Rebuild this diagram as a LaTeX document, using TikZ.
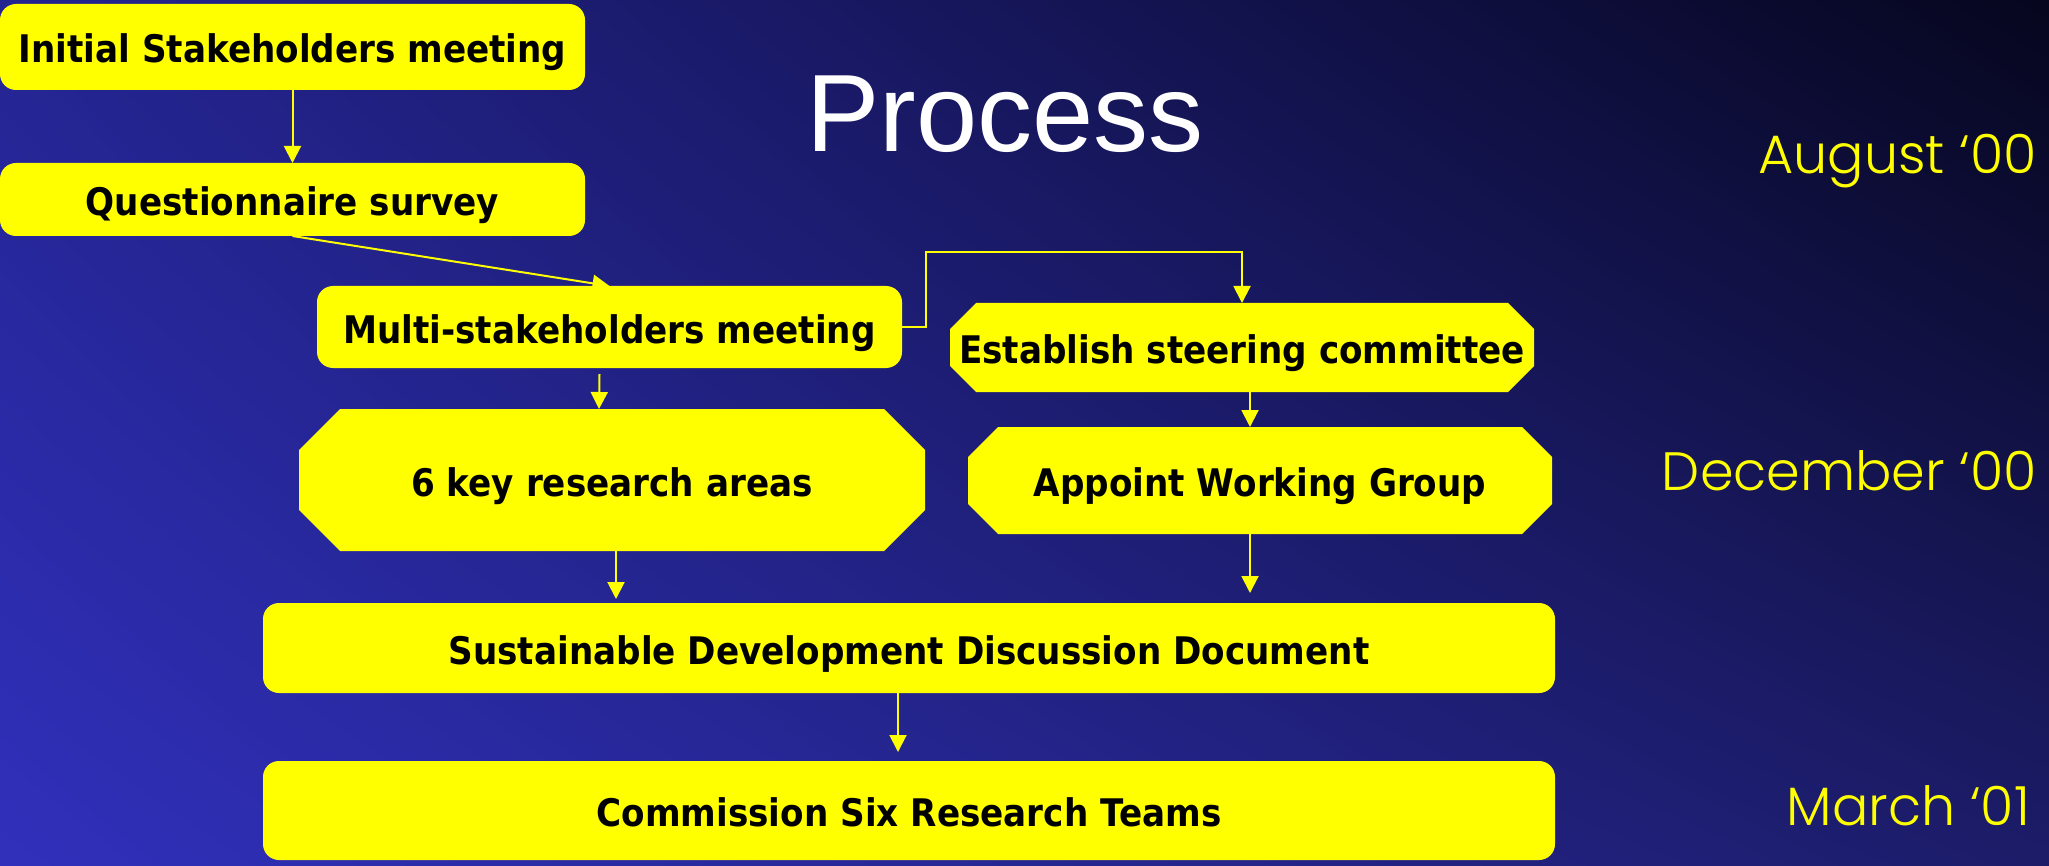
\documentclass[tikz,border=0pt]{standalone}
\usepackage{fontspec}
\usetikzlibrary{arrows.meta,calc,shadings}
\newfontfamily\boxfont[FakeStretch=0.9]{DejaVu Sans}
\newfontfamily\titlefont{Liberation Sans}
\IfFontExistsTF{Poppins Light}{\newfontfamily\datefont{Poppins Light}}{\newfontfamily\datefont{Poppins}}
\definecolor{bgdark}{RGB}{6,6,30}
\definecolor{bgupper}{RGB}{36,36,145}
\definecolor{bglower}{RGB}{28,28,105}
\definecolor{bglight}{RGB}{48,48,188}
\definecolor{boxyellow}{RGB}{255,255,0}

\begin{document}
\begin{tikzpicture}[x=1pt,y=-1pt,
  every node/.append style={inner sep=0pt,outer sep=0pt},
  boxtext/.style={text=black,text height=32pt,text depth=0pt,
    font=\fontsize{38}{44}\boxfont\bfseries},
  roundbox/.style={boxtext,rectangle,rounded corners=16pt,fill=boxyellow},
  octbox/.style={boxtext,rectangle,path picture={
    \fill[boxyellow] ([xshift=#1]path picture bounding box.north west)
      -- ([xshift=-#1]path picture bounding box.north east)
      -- ([yshift=-#1]path picture bounding box.north east)
      -- ([yshift=#1]path picture bounding box.south east)
      -- ([xshift=-#1]path picture bounding box.south east)
      -- ([xshift=#1]path picture bounding box.south west)
      -- ([yshift=#1]path picture bounding box.south west)
      -- ([yshift=-#1]path picture bounding box.north west) -- cycle;}},
  arr/.style={draw=boxyellow,line width=2pt,-{Triangle[width=17pt,length=17pt]}},
  datelabel/.style={anchor=base east,text=boxyellow,font=\fontsize{54}{60}\datefont}]
\useasboundingbox (0,0) rectangle (2049,866);
\shade[upper left=bgupper,upper right=bgdark,lower left=bglight,lower right=bglower] (0,0) rectangle (2049,866);

\node[anchor=base,text=white,font=\fontsize{110}{120}\titlefont] (title) at (1005,152) {Process};
\node[datelabel] (aug) at (2037,174) {August ‘00};
\node[datelabel] (dec) at (2037,490) {December ‘00};
\node[datelabel] (mar) at (2030,825) {March ‘01};

\node[roundbox,minimum width=585pt,minimum height=86pt] (init) at (292.5,47) {Initial Stakeholders meeting};
\node[roundbox,minimum width=585pt,minimum height=73pt] (quest) at (292.5,199.5) {Questionnaire survey};
\node[roundbox,minimum width=585pt,minimum height=82pt] (meet) at (609.5,327) {Multi-stakeholders meeting};
\node[octbox=26pt,minimum width=584pt,minimum height=89pt] (estab) at (1242,347.5) {Establish steering committee};
\node[octbox=41pt,minimum width=626pt,minimum height=142pt] (keys) at (612,480) {6 key research areas};
\node[octbox=30pt,minimum width=584pt,minimum height=107pt] (appoint) at (1260,480.5) {Appoint Working Group};
\node[roundbox,minimum width=1292pt,minimum height=90pt] (sddd) at (909,648) {Sustainable Development Discussion Document};
\node[roundbox,minimum width=1292pt,minimum height=99pt] (comm) at (909,810.5) {Commission Six Research Teams};

\draw[arr] (init) -- (quest);
\draw[arr] (quest.south) -- (meet.north);
\draw[arr] ($(meet.south)+(-10,6)$) -- ($(keys.north)+(-13,0)$);
\draw[arr] (meet.east) -- ++(24,0) -- ++(0,-75) -| (estab.north);
\draw[arr] ($(estab.south)+(8,0)$) -- ($(appoint.north)+(-10,0)$);
\draw[arr] ($(appoint.south)+(-10,0)$) -- ($(appoint.south |- sddd.north)+(-10,-10)$);
\draw[arr] ($(keys.south)+(4,0)$) -- ($(keys.south |- sddd.north)+(4,-4)$);
\draw[arr] ($(sddd.south)+(-11,0)$) -- ($(comm.north)+(-11,-9)$);
\end{tikzpicture}
\end{document}
